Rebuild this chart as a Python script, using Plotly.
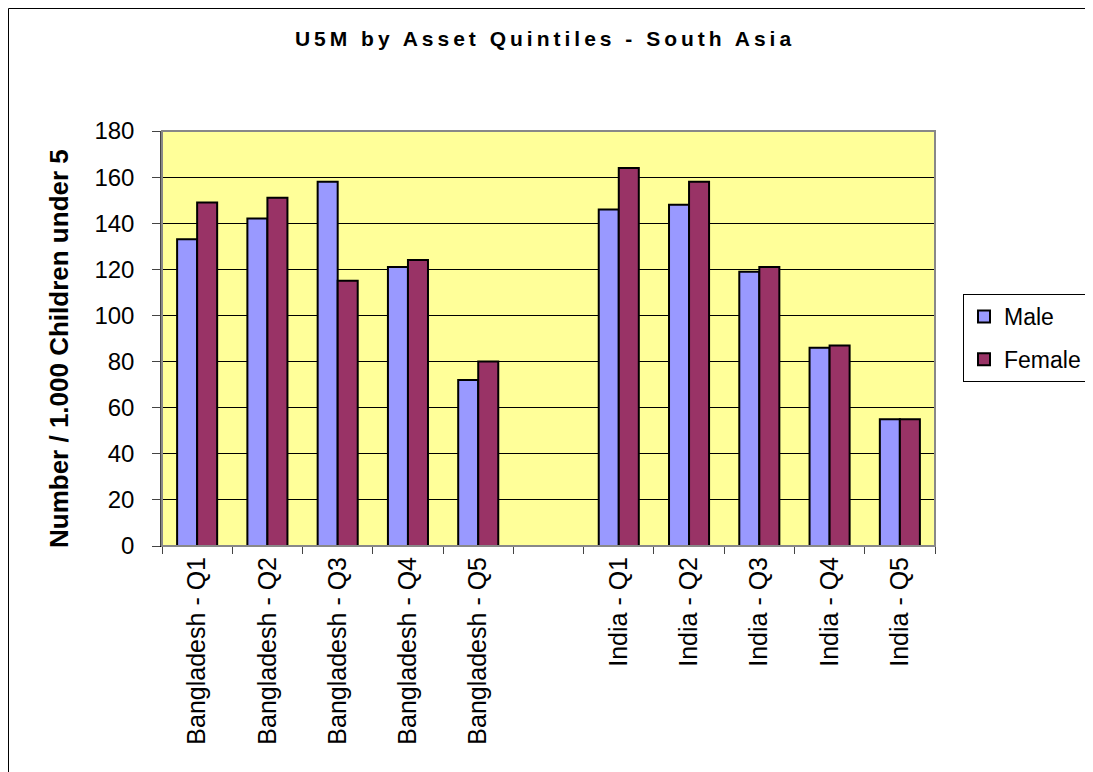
import plotly.graph_objects as go

categories = ["Bangladesh - Q1", "Bangladesh - Q2", "Bangladesh - Q3", "Bangladesh - Q4", "Bangladesh - Q5", " ",
              "India - Q1", "India - Q2", "India - Q3", "India - Q4", "India - Q5"]
male = [133, 142, 158, 121, 72, None, 146, 148, 119, 86, 55]
female = [149, 151, 115, 124, 80, None, 164, 158, 121, 87, 55]
y_ticks = [0, 20, 40, 60, 80, 100, 120, 140, 160, 180]

# page has an 8px body margin, so figure coords = page coords - 8
OFF = 8
W, H = 1093 - OFF, 772 - OFF
L, R, T, B = 162 - OFF, 935 - OFF, 131 - OFF, 546 - OFF
pw, ph = R - L, B - T


def px(x):
    return (x - OFF - L) / pw


def py(y):
    return (B - (y - OFF)) / ph


font = "Liberation Sans, Arial, sans-serif"

fig = go.Figure()
fig.add_trace(go.Bar(x=categories, y=male, name="Male", legendgroup="m",
                     marker=dict(color="#9999FF", line=dict(color="black", width=2))))
fig.add_trace(go.Bar(x=categories, y=female, name="Female", legendgroup="f",
                     marker=dict(color="#993366", line=dict(color="black", width=2))))

fig.update_layout(
    width=W, height=H,
    margin=dict(l=L, r=W - R, t=T, b=H - B, autoexpand=False),
    paper_bgcolor="white",
    plot_bgcolor="#FFFF99",
    barmode="group",
    bargap=0.43,
    bargroupgap=0,
    font=dict(family=font, color="black"),
    title=dict(text="<span style='letter-spacing:4px'><b>U5M by Asset Quintiles - South Asia</b></span>",
               x=px(545), xref="paper", xanchor="center",
               y=1 - (39 - OFF) / H, yanchor="middle",
               font=dict(size=21, family=font)),
    legend=dict(x=px(963), y=py(294), xanchor="left", yanchor="top",
                bordercolor="black", borderwidth=1, bgcolor="white",
                font=dict(size=23, family=font), itemwidth=30,
                tracegroupgap=10),
    showlegend=True,
)

fig.update_xaxes(
    type="category",
    categoryorder="array", categoryarray=categories,
    tickangle=-90,
    tickfont=dict(size=25, family=font),
    ticks="outside", tickson="boundaries", ticklen=7, tickcolor="#444",
    showline=True, linecolor="black", linewidth=1,
    showgrid=False,
    automargin=False,
)
fig.update_yaxes(
    range=[0, 180],
    tickvals=y_ticks,
    tickfont=dict(size=24, family=font),
    ticks="outside", ticklen=8, tickcolor="#444",
    ticklabelstandoff=13,
    showline=True, linecolor="#444", linewidth=1.5,
    showgrid=True, gridcolor="black", gridwidth=1,
    zeroline=False,
    automargin=False,
)

# y-axis title placed as a rotated annotation
fig.add_annotation(text="<b>Number / 1.000 Children under 5</b>",
                   xref="paper", yref="paper", x=px(59), y=py(349),
                   xanchor="center", yanchor="middle", textangle=-90,
                   showarrow=False, font=dict(size=26, family=font))

# plot area border (gray)
fig.add_shape(type="rect", xref="paper", yref="paper", x0=0, x1=1, y0=0, y1=1,
              line=dict(color="#888888", width=2), layer="above")
# outer chart border
fig.add_shape(type="rect", xref="paper", yref="paper",
              x0=px(8.5), x1=px(1120), y0=py(800), y1=py(8.5),
              line=dict(color="black", width=1), layer="above")

fig.write_html("out.html")
